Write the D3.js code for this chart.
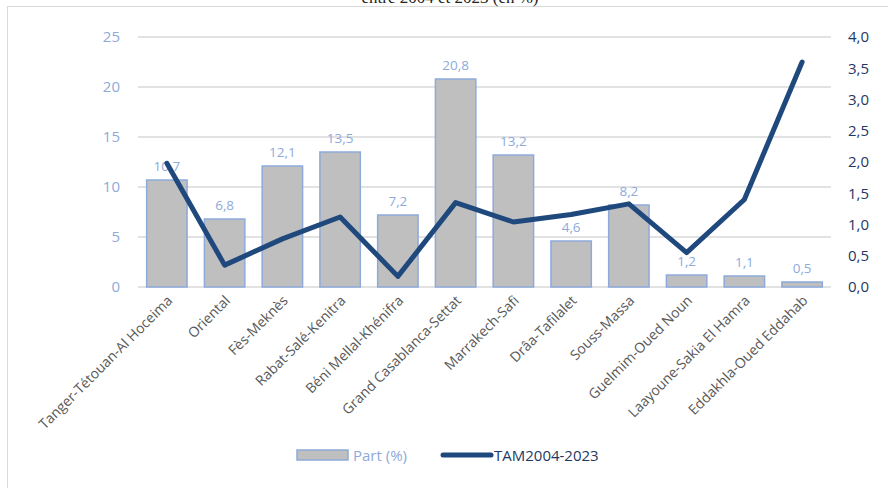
<!DOCTYPE html>
<html><head><meta charset="utf-8">
<script src="https://cdn.jsdelivr.net/npm/d3@7"></script>
<style>
html,body{margin:0;padding:0;background:#fff;}
svg{display:block;font-family:"Open Sans","Noto Sans",sans-serif;}
</style></head>
<body>
<svg id="chart" width="888" height="488"></svg>
<script>
const categories = ["Tanger-Tétouan-Al Hoceima","Oriental","Fès-Meknès","Rabat-Salé-Kenitra","Béni Mellal-Khénifra","Grand Casablanca-Settat","Marrakech-Safi","Drâa-Tafilalet","Souss-Massa","Guelmim-Oued Noun","Laayoune-Sakia El Hamra","Eddakhla-Oued Eddahab"];
const partValues = [10.7, 6.8, 12.1, 13.5, 7.2, 20.8, 13.2, 4.6, 8.2, 1.2, 1.1, 0.5];
const tamValues = [1.98, 0.35, 0.77, 1.12, 0.17, 1.35, 1.04, 1.16, 1.33, 0.55, 1.40, 3.60];
const leftTicks = [0, 5, 10, 15, 20, 25];
const rightTicks = [0, 0.5, 1, 1.5, 2, 2.5, 3, 3.5, 4];
const seriesNames = ["Part (%)", "TAM2004-2023"];
const titleText = "entre 2004 et 2023 (en %)";

const svg = d3.select("#chart");
const fmt = v => d3.format(".1f")(v).replace(".", ",");

// frame
svg.append("line").attr("x1",7).attr("x2",888).attr("y1",6.5).attr("y2",6.5).attr("stroke","#d9d9d9").attr("stroke-width",1);
svg.append("line").attr("x1",7.5).attr("x2",7.5).attr("y1",6).attr("y2",488).attr("stroke","#d9d9d9").attr("stroke-width",1);
svg.append("text").attr("x",450).attr("y",3).attr("text-anchor","middle")
  .attr("font-family","'Liberation Serif','DejaVu Serif',serif").attr("font-size",17).attr("fill","#222").text(titleText);

const x = d3.scaleBand().domain(categories).range([138, 831]).paddingInner(0.3).paddingOuter(0.15);
const yL = d3.scaleLinear().domain([0, 25]).range([287, 37]);
const yR = d3.scaleLinear().domain([0, 4]).range([287, 37]);

// gridlines
svg.append("g").selectAll("line").data(leftTicks).join("line")
  .attr("x1",138).attr("x2",831).attr("y1",d=>yL(d)).attr("y2",d=>yL(d))
  .attr("stroke","#d9d9d9").attr("stroke-width",1.3);

// left axis
const gL = svg.append("g").attr("transform","translate(138,0)")
  .call(d3.axisLeft(yL).tickValues(leftTicks).tickSize(0).tickPadding(18).tickFormat(d=>d));
gL.select(".domain").remove();
gL.selectAll("text").attr("fill","#8eaadb").attr("font-size",15).attr("font-family","'Open Sans',sans-serif");

// right axis
const gR = svg.append("g").attr("transform","translate(831,0)")
  .call(d3.axisRight(yR).tickValues(rightTicks).tickSize(0).tickPadding(17).tickFormat(fmt));
gR.select(".domain").remove();
gR.selectAll("text").attr("fill","#1f3864").attr("font-size",15).attr("font-family","'Open Sans',sans-serif");

// bars
svg.append("g").selectAll("rect").data(partValues).join("rect")
  .attr("x",(d,i)=>x(categories[i])).attr("width",x.bandwidth())
  .attr("y",d=>yL(d)).attr("height",d=>yL(0)-yL(d))
  .attr("fill","#bfbfbf").attr("stroke","#8eaadb").attr("stroke-width",1.5);

// bar labels
svg.append("g").selectAll("text").data(partValues).join("text")
  .attr("x",(d,i)=>x(categories[i])+x.bandwidth()/2).attr("y",d=>yL(d)-9)
  .attr("text-anchor","middle").attr("fill","#8eaadb").attr("font-size",13.5).text(fmt);

// line
const line = d3.line().x((d,i)=>x(categories[i])+x.bandwidth()/2).y(d=>yR(d));
svg.append("path").datum(tamValues).attr("d",line).attr("fill","none")
  .attr("stroke","#1f497d").attr("stroke-width",5).attr("stroke-linejoin","round").attr("stroke-linecap","round");

// category labels
svg.append("g").selectAll("text").data(categories).join("text")
  .attr("transform",d=>`translate(${x(d)+x.bandwidth()/2+3},${298}) rotate(-45)`)
  .attr("text-anchor","end").attr("dy","0.35em").attr("fill","#595959").attr("font-size",14).text(d=>d);

// legend
const lg = svg.append("g");
lg.append("rect").attr("x",297).attr("y",450).attr("width",51).attr("height",10).attr("fill","#bfbfbf").attr("stroke","#8eaadb").attr("stroke-width",1.5);
lg.append("text").attr("x",353).attr("y",461).attr("fill","#8eaadb").attr("font-size",15).text(seriesNames[0]);
lg.append("line").attr("x1",443).attr("x2",491).attr("y1",455).attr("y2",455).attr("stroke","#1f497d").attr("stroke-width",5).attr("stroke-linecap","round");
lg.append("text").attr("x",494).attr("y",461).attr("fill","#1f3864").attr("font-size",15).text(seriesNames[1]);
</script>
</body></html>
